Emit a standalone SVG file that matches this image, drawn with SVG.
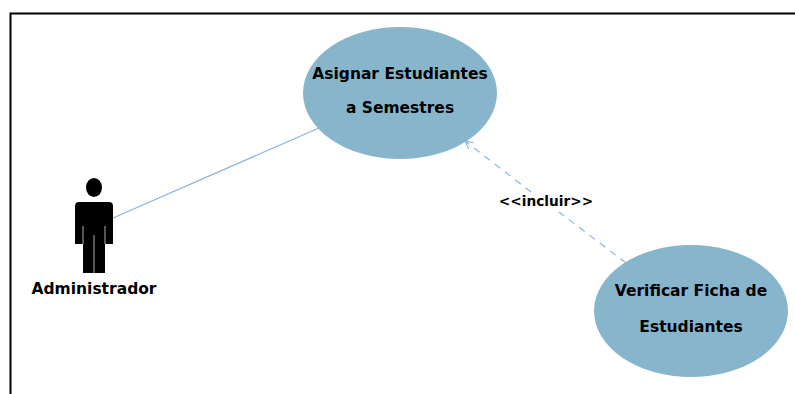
<svg xmlns="http://www.w3.org/2000/svg" width="795" height="394" viewBox="0 0 795 394">
<style>
.uc{fill:#86b5cc}
.t{font-family:"DejaVu Sans",Verdana,sans-serif;font-weight:bold;font-size:15.500px;fill:#000;text-anchor:middle}
.c{fill:none;stroke:#8fb4d6;stroke-width:1.2}
</style>
<defs>
<marker id="open" markerWidth="10" markerHeight="10" refX="9" refY="5" orient="auto" markerUnits="userSpaceOnUse">
<path d="M1 1L9 5L1 9" fill="none" stroke="#8fb4d6" stroke-width="1"/>
</marker>
</defs>
<rect width="795" height="394" fill="#fff"/>
<path d="M10.500 394V13.500H795" fill="none" stroke="#000" stroke-width="2"/>
<g id="connectors">
<line class="c" x1="113" y1="218" x2="319" y2="128"/>
<line class="c" x1="531" y1="192" x2="465" y2="141" stroke-dasharray="7 6" marker-end="url(#open)"/>
<line class="c" x1="626" y1="263" x2="559" y2="212" stroke-dasharray="7 6"/>
</g>
<g id="actor-administrador">
<ellipse cx="94" cy="187.500" rx="8" ry="9.500" fill="#000"/>
<path d="M79 202H109Q113 202 113 206V244H105V273H83V244H75V206Q75 202 79 202Z" fill="#000"/>
<path d="M83 226V244M105 226V244M94 235V273" stroke="#aaa" stroke-width="1" fill="none"/>
<text class="t" x="94" y="294">Administrador</text>
</g>
<g id="uc-asignar">
<ellipse class="uc" cx="400" cy="93" rx="97" ry="66"/>
<text class="t" x="400" y="79">Asignar Estudiantes</text>
<text class="t" x="400" y="113">a Semestres</text>
</g>
<g id="uc-verificar">
<ellipse class="uc" cx="691" cy="311" rx="97" ry="66"/>
<text class="t" x="691" y="296">Verificar Ficha de</text>
<text class="t" x="691" y="332">Estudiantes</text>
</g>
<g id="label-incluir">
<text class="t" x="546" y="206" style="font-size:13.700px">&lt;&lt;incluir&gt;&gt;</text>
</g>
</svg>
